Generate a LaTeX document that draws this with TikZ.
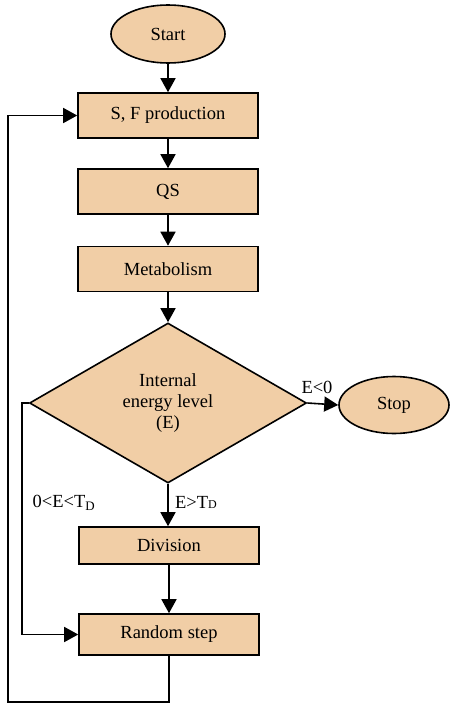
\documentclass[tikz,border=0pt]{standalone}
\usepackage{fontspec}
\setmainfont{Liberation Serif}
\usetikzlibrary{shapes.geometric,arrows.meta}
\definecolor{peach}{RGB}{241,206,166}

\begin{document}
\begin{tikzpicture}[x=1pt, y=-1pt, line width=1.6pt,
  every node/.style={font=\fontsize{18.5}{21}\selectfont},
  proc/.style={draw, fill=peach, minimum width=180pt, minimum height=45pt, inner sep=0pt},
  term/.style={draw, fill=peach, ellipse, minimum width=114pt, minimum height=58pt, inner sep=0pt},
  flow/.style={-{Triangle[length=14pt,width=15pt]}}]

\useasboundingbox (0,0) rectangle (450,704);

\node[term] (start) at (168,34) {Start};

\node[proc] (sfp) at (168,115.5) {S, F production};
\node[proc] (qs) at (168,191.5) {QS};
\node[proc] (metab) at (168,269) {Metabolism};

% Decision diamond
\node[
    draw,
    fill=peach,
    diamond,
    minimum width=277pt,
    minimum height=160pt,
    inner sep=0pt,
    align=center
] (energy) at (168,403) {Internal\\energy level\\(E)};

\node[term, minimum width=110pt, minimum height=57pt] (stop) at (394,405) {Stop};

\node[proc, minimum height=37pt] (division) at (169,545.5) {Division};
\node[proc, minimum height=41pt] (randstep) at (169,634.5) {Random step};

% Branch labels
\node (lneg) at (317,387) {E<0};
\node (ldiv) at (196,502) {E>T{\fontsize{12}{12}\selectfont D}};
\node (lmid) at (64,503) {0<E<T\textsubscript{D}};

\coordinate (loopbot) at (8,702);

\draw[flow] (start) -- (sfp);
\draw[flow] (sfp) -- (qs);
\draw[flow] (qs) -- (metab);
\draw[flow] (metab) -- (energy);
\draw[flow] (energy.east) -- (stop.west);
\draw[flow] (energy.south) -- (energy.south |- division.north);
\draw[flow] (division) -- (randstep);
\draw[flow] (energy.west) -- ++(-7,0) |- (randstep.west);
\draw[flow] (randstep.south) |- (loopbot) |- (sfp.west);
\end{tikzpicture}
\end{document}
